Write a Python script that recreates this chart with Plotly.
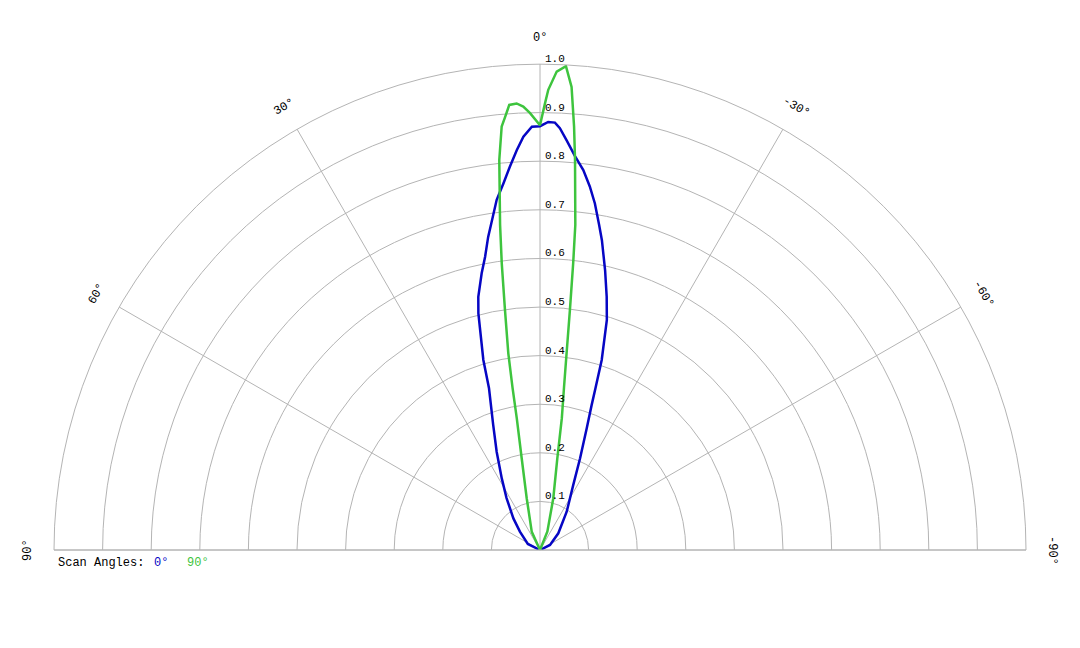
import numpy as np
import plotly.graph_objects as go

# ---- data ----
blue_theta = [90, 63.4, 47.6, 40.1, 32.8, 28.1, 23.8, 20.5, 17.5, 16.6, 14.6, 13.7, 11.9, 10.6, 9.4,
              8.6, 7.05, 5.7, 4.5, 3.33, 2.3, 1.1, 0.0, -1.1, -2.0, -2.7, -3.7, -5.1, -6.5, -7.8,
              -9.0, -10.3, -11.3, -13.1, -14.75, -16.2, -18.0, -18.9, -19.6, -21.0, -23.6, -27.1,
              -34.9, -47.6, -63.4, -90]
blue_r = [0.0, 0.028, 0.056, 0.085, 0.127, 0.167, 0.221, 0.275, 0.349, 0.408, 0.503, 0.536, 0.582,
          0.614, 0.653, 0.676, 0.726, 0.758, 0.791, 0.824, 0.851, 0.871, 0.872, 0.881, 0.880, 0.869,
          0.845, 0.813, 0.787, 0.755, 0.722, 0.680, 0.650, 0.591, 0.539, 0.493, 0.411, 0.353, 0.317,
          0.268, 0.206, 0.150, 0.096, 0.051, 0.023, 0.0]

green_theta = [90, 24.4, 14.4, 11.3, 10.0, 9.6, 9.15, 8.3, 7.6, 7.0, 5.96, 5.17, 4.6, 3.95, 3.0,
               2.16, 1.3, 0.0, -0.64, -1.03, -2.0, -3.07, -3.9, -4.6, -5.13, -6.2, -6.6, -7.1,
               -7.7, -8.4, -9.4, -10.7, -14.4, -21.8, -90]
green_r = [0.0, 0.041, 0.110, 0.192, 0.275, 0.339, 0.410, 0.499, 0.595, 0.674, 0.807, 0.875, 0.894,
           0.918, 0.920, 0.913, 0.899, 0.874, 0.919, 0.947, 0.985, 0.997, 0.955, 0.874, 0.806,
           0.673, 0.594, 0.498, 0.408, 0.338, 0.275, 0.192, 0.110, 0.041, 0.0]

angle_ticks = [90, 60, 30, 0, -30, -60, -90]
angle_labels = ["90°", "60°", "30°", "0°", "-30°", "-60°", "-90°"]
radial_ticks = [0.1, 0.2, 0.3, 0.4, 0.5, 0.6, 0.7, 0.8, 0.9, 1.0]
radial_labels = ["0.1", "0.2", "0.3", "0.4", "0.5", "0.6", "0.7", "0.8", "0.9", "1.0"]
legend_title = "Scan Angles:"
series_names = ["0°", "90°"]
series_colors = ["#0606c4", "#3ec43e"]

W, H = 1080, 648
CX, CY, R = 540, 550, 486
MONO = "Courier New, Liberation Mono, monospace"
TXT = "#000000"

fig = go.Figure()
for th, rr, name, col in [(blue_theta, blue_r, series_names[0], series_colors[0]),
                          (green_theta, green_r, series_names[1], series_colors[1])]:
    fig.add_trace(go.Scatterpolar(theta=th, r=rr, mode="lines", name=name,
                                  line=dict(color=col, width=2.5), showlegend=False))

grid = "#b4b4b4"
fig.update_layout(
    width=W, height=H,
    margin=dict(l=0, r=0, t=0, b=0),
    paper_bgcolor="white",
    plot_bgcolor="white",
    polar=dict(
        domain=dict(x=[(CX - R) / W, (CX + R) / W], y=[(H - CY) / H, (H - CY + R) / H]),
        sector=[0, 180],
        bgcolor="white",
        angularaxis=dict(rotation=90, direction="counterclockwise",
                         tickmode="array", tickvals=angle_ticks,
                         showticklabels=False, ticks="",
                         showgrid=True, gridcolor=grid, gridwidth=1,
                         showline=True, linecolor=grid, linewidth=1),
        radialaxis=dict(range=[0, 1.0], angle=90,
                        tickmode="array", tickvals=radial_ticks,
                        showticklabels=False,
                        showgrid=True, gridcolor=grid, gridwidth=1,
                        showline=False, ticks=""),
    ),
)

annotations = []
# angular labels, rotated tangentially
for a, lab in zip(angle_ticks, angle_labels):
    rad = np.deg2rad(a)
    xp = CX - 512 * np.sin(rad)
    yp = CY - 512 * np.cos(rad)
    annotations.append(dict(x=xp / W, y=1 - yp / H, xref="paper", yref="paper",
                            text=lab, showarrow=False, textangle=-a,
                            xanchor="center", yanchor="middle",
                            font=dict(family=MONO, size=12, color=TXT)))
# radial labels just right of the 0° spoke, slightly above each ring
for rv, lab in zip(radial_ticks, radial_labels):
    yp = CY - R * rv - 5
    annotations.append(dict(x=(CX + 3) / W, y=1 - yp / H, xref="paper", yref="paper",
                            text=lab, showarrow=False, xanchor="left", yanchor="middle",
                            font=dict(family=MONO, size=11, color=TXT)))
# legend
for txt, xp, col in [(legend_title, 56, TXT),
                     (series_names[0], 152, series_colors[0]),
                     (series_names[1], 185, series_colors[1])]:
    annotations.append(dict(x=xp / W, y=1 - 563 / H, xref="paper", yref="paper",
                            text=txt, showarrow=False, xanchor="left", yanchor="middle",
                            font=dict(family=MONO, size=12, color=col)))
fig.update_layout(annotations=annotations)

fig.write_html("out.html")
